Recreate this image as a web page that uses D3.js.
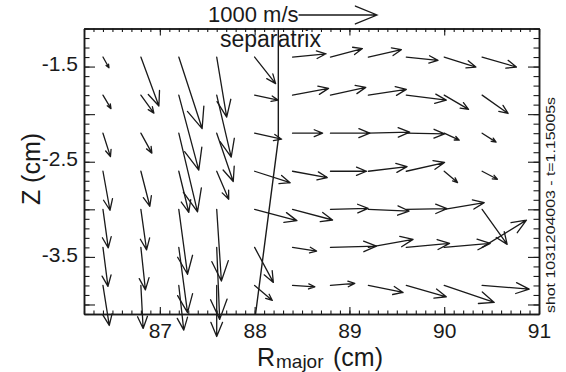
<!DOCTYPE html>
<html><head><meta charset="utf-8">
<script src="https://cdn.jsdelivr.net/npm/d3@7"></script>
<style>
html,body{margin:0;padding:0;background:#fff;}
svg{display:block;}
text{font-family:"Liberation Sans",Arial,Helvetica,sans-serif;fill:#1a1a1a;}
</style></head><body>
<svg id="chart" width="566" height="372"></svg>
<script>
// ---- data ----
const rMajor = [86.4, 86.8, 87.2, 87.6, 88.0, 88.4, 88.8, 89.2, 89.6, 90.0, 90.4];
const zRows  = [-1.4, -1.8, -2.2, -2.6, -3.0, -3.4, -3.8];
// radial velocity (m/s), one array per row of Z
const vR = [
  [77, 231, 299, 128, 269, 429, 410, 423, 406, 406, 440],
  [103, 167, 256, 186, 301, 462, 453, 487, 513, 312, 333],
  [96, 141, 240, 212, 346, 385, 504, 529, 491, 192, 179],
  [90, 115, 128, 154, 455, 445, 462, 496, 491, 171, 196],
  [68, 73, 112, 60, 542, 513, 483, 522, 522, 513, 321],
  [64, 58, 112, 38, 240, 308, 590, 573, 555, 590, 568],
  [81, 29, 64, 0, 227, 286, 312, 445, 513, 641, 603]
];
// vertical velocity (m/s)
const vZ = [
  [-137, -628, -917, -769, -340, 42, 109, 94, -42, -128, -128],
  [-173, -231, -962, -795, -64, 86, 99, 73, -64, -183, -235],
  [-301, -256, -1009, -620, -77, 0, 0, 13, -9, -90, -115],
  [-500, -449, -526, -359, -147, -81, 0, 60, 112, -145, -103],
  [-494, -519, -833, -919, -145, -137, 13, -22, 9, 86, -449],
  [-500, -545, -837, -923, -449, -47, 17, 103, 51, 51, 350],
  [-513, -551, -573, -654, -192, -17, 26, -90, -145, -218, -47]
];
const sepR = [88.25, 88.25, 88.01];
const sepZ = [-1.1, -2.26, -4.1];
const xTickValues = [87, 88, 89, 90, 91];
const xTickLabels = ["87", "88", "89", "90", "91"];
const yTickValues = [-1.5, -2.0, -2.5, -3.0, -3.5, -4.0];
const yTickLabels = ["-1.5", "", "-2.5", "", "-3.5", ""];
const refSpeed = 1000;
const refLabel = "1000 m/s";
const sepLabel = "separatrix";
const shotLabel = "shot 1031204003 - t=1.15005s";

// ---- layout ----
const svg = d3.select("#chart");
const ink = "#1a1a1a";
const x = d3.scaleLinear().domain([86.2, 91]).range([84, 539]);
const y = d3.scaleLinear().domain([-4.1, -1.1]).range([314, 28.5]);
const vs = d3.scaleLinear().domain([0, 1000]).range([0, 78]);

const minorX = d3.range(862, 911).map(d => d / 10);
const minorY = d3.range(-41, -10).map(d => d / 10);

function addAxis(axis, tx, ty, opts = {}) {
  const g = svg.append("g").attr("transform", `translate(${tx},${ty})`).call(axis);
  g.attr("font-family", null).attr("font-size", opts.fs || 21);
  g.select(".domain").attr("stroke", ink).attr("stroke-width", 1.5);
  g.selectAll(".tick line").attr("stroke", ink).attr("stroke-width", 1.1);
  g.selectAll(".tick text").attr("fill", ink);
  return g;
}
const [x0, x1] = x.range();
const [yb, yt] = y.range();
// bottom
addAxis(d3.axisBottom(x).tickValues(minorX).tickSizeInner(-3.5).tickSizeOuter(0).tickFormat(""), 0, yb);
addAxis(d3.axisBottom(x).tickValues(xTickValues).tickSizeInner(-7).tickSizeOuter(0).tickPadding(9)
  .tickFormat((d, i) => xTickLabels[i]), 0, yb);
// top
addAxis(d3.axisTop(x).tickValues(minorX).tickSizeInner(-3.5).tickSizeOuter(0).tickFormat(""), 0, yt);
addAxis(d3.axisTop(x).tickValues(xTickValues).tickSizeInner(-7).tickSizeOuter(0).tickFormat(""), 0, yt);
// left
addAxis(d3.axisLeft(y).tickValues(minorY).tickSizeInner(-5.5).tickSizeOuter(0).tickFormat(""), x0, 0);
const gl = addAxis(d3.axisLeft(y).tickValues(yTickValues).tickSizeInner(-11).tickSizeOuter(0).tickPadding(6)
  .tickFormat((d, i) => yTickLabels[i]), x0, 0);
gl.selectAll(".tick text").attr("dy", "0.2em");
// right
addAxis(d3.axisRight(y).tickValues(minorY).tickSizeInner(-5.5).tickSizeOuter(0).tickFormat(""), x1, 0);
addAxis(d3.axisRight(y).tickValues(yTickValues).tickSizeInner(-11).tickSizeOuter(0).tickFormat(""), x1, 0);

// ---- arrows ----
function arrowPath(px, py, dx, dy) {
  const L = Math.hypot(dx, dy);
  const ex = px + dx, ey = py + dy;
  if (L < 0.01) return `M${px},${py}`;
  const ux = dx / L, uy = dy / L;
  const h = 0.3 * L, a = 22.5 * Math.PI / 180;
  const ct = h * Math.cos(a), st = h * Math.sin(a);
  const hx1 = ex - (ct * ux - st * uy), hy1 = ey - (ct * uy + st * ux);
  const hx2 = ex - (ct * ux + st * uy), hy2 = ey - (ct * uy - st * ux);
  return `M${px},${py}L${ex},${ey}M${hx1},${hy1}L${ex},${ey}L${hx2},${hy2}`;
}
const vecs = [];
zRows.forEach((z, i) => rMajor.forEach((r, j) => vecs.push({ r, z, u: vR[i][j], w: vZ[i][j] })));
svg.append("g").selectAll("path").data(vecs).join("path")
  .attr("d", d => arrowPath(x(d.r), y(d.z), vs(d.u), -vs(d.w)))
  .attr("fill", "none").attr("stroke", ink).attr("stroke-width", 1.3)
  .attr("stroke-linecap", "round").attr("stroke-linejoin", "round");

// ---- separatrix ----
svg.append("path")
  .attr("d", d3.line().x(d => x(d[0])).y(d => y(d[1]))(sepR.map((r, i) => [r, sepZ[i]])))
  .attr("fill", "none").attr("stroke", ink).attr("stroke-width", 1.4);
svg.append("text").attr("x", 220).attr("y", 47).attr("font-size", 23).text(sepLabel);

// ---- reference arrow ----
svg.append("text").attr("x", 208).attr("y", 21.7).attr("font-size", 22).text(refLabel);
svg.append("path").attr("d", arrowPath(299, 15, vs(refSpeed), 0))
  .attr("fill", "none").attr("stroke", ink).attr("stroke-width", 1.3).attr("stroke-linecap", "round");

// ---- axis titles ----
svg.append("text").attr("x", 257).attr("y", 366).attr("font-size", 25).text("R");
svg.append("text").attr("x", 276).attr("y", 367.5).attr("font-size", 19).text("major");
svg.append("text").attr("x", 333).attr("y", 366).attr("font-size", 25).text("(cm)");
svg.append("text").attr("transform", "translate(40,169) rotate(-90)").attr("text-anchor", "middle")
  .attr("font-size", 25).text("Z (cm)");
svg.append("text").attr("transform", "translate(555,313) rotate(-90)").attr("font-size", 12)
  .attr("textLength", 216).attr("lengthAdjust", "spacingAndGlyphs").text(shotLabel);
</script>
</body></html>
